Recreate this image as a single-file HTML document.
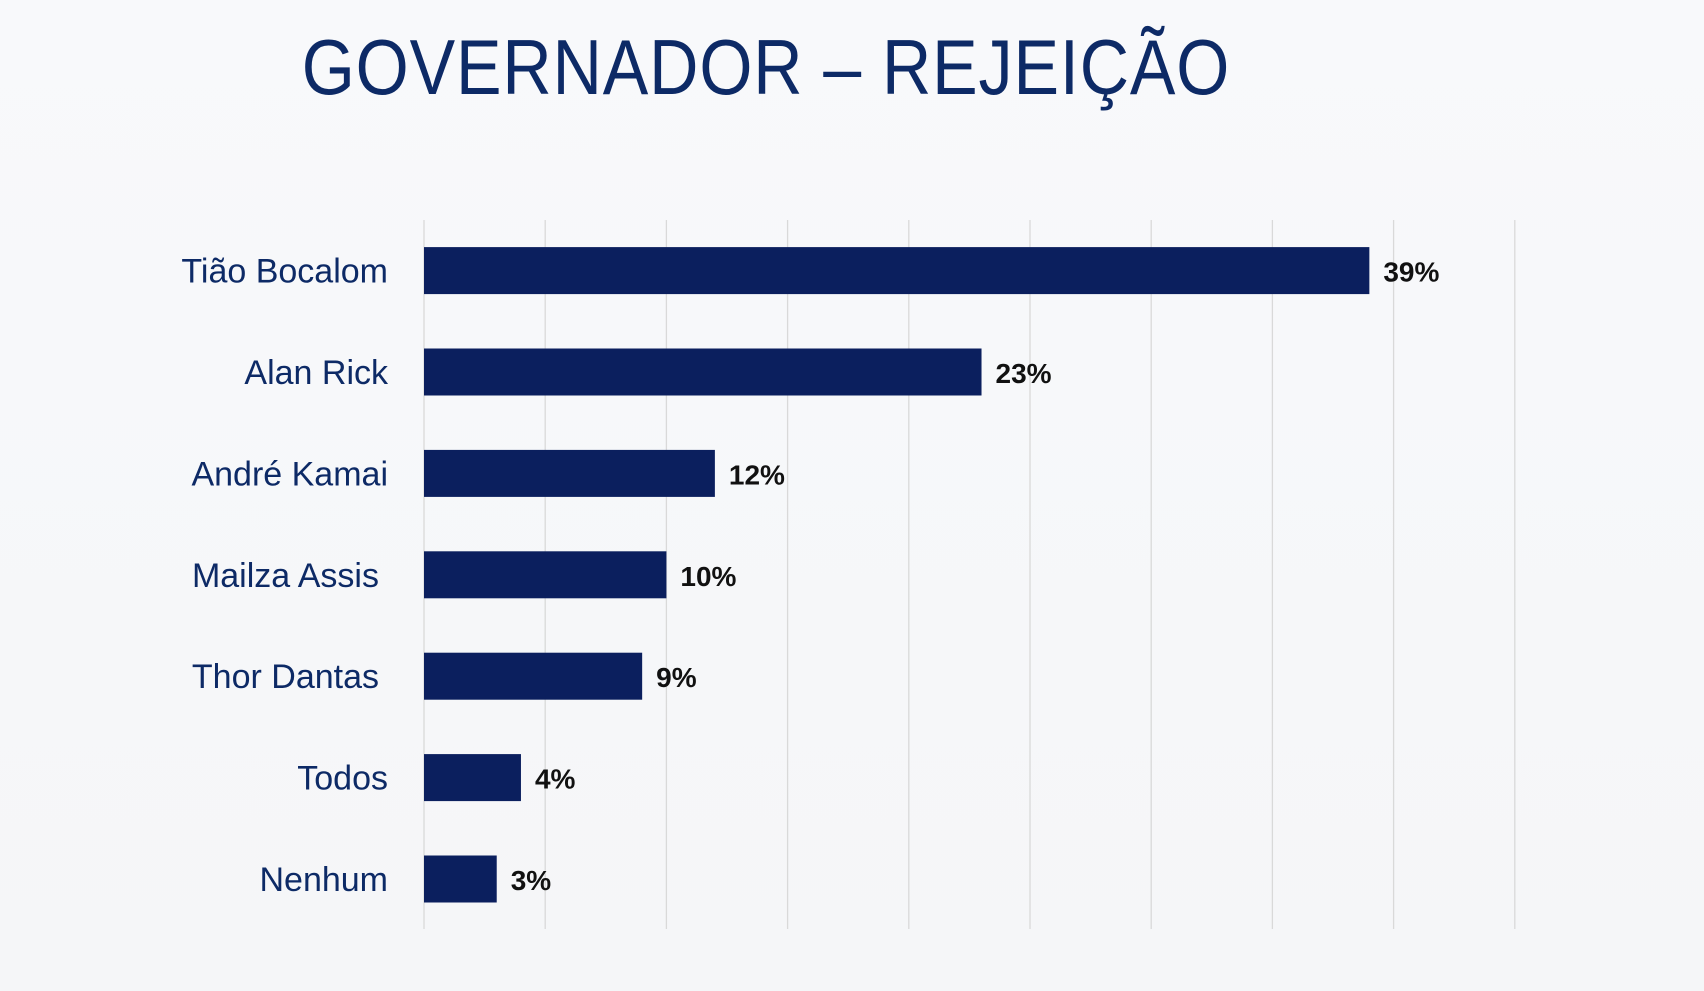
<!DOCTYPE html>
<html><head><meta charset="utf-8">
<style>
html,body{margin:0;padding:0;background:#f7f8fa;}
#wrap{position:relative;width:1704px;height:991px;overflow:hidden;background:linear-gradient(180deg,#f8f9fb,#f5f6f8);}
#title{position:absolute;left:0;top:22px;width:1532px;text-align:center;font-family:"Liberation Sans",sans-serif;font-size:78px;color:#0d2a66;letter-spacing:1px;transform:scaleX(0.875);transform-origin:766px 0;}
svg{position:absolute;left:0;top:0;}
</style></head><body>
<div id="wrap">
<div id="title">GOVERNADOR – REJEIÇÃO</div>
<svg id="chart" width="1704" height="991"></svg>
</div>
<script>
const categories=["Tião Bocalom","Alan Rick","André Kamai","Mailza Assis","Thor Dantas","Todos","Nenhum"];
const values=[39,23,12,10,9,4,3];
const valueLabels=["39%","23%","12%","10%","9%","4%","3%"];
const gridTicks=[0,5,10,15,20,25,30,35,40,45];
const NS="http://www.w3.org/2000/svg";
const svg=document.getElementById('chart');
const x0=424,pxPer=24.24,yTop=220,yBot=929,firstC=270.6,step=101.4,barH=47;
function xs(v){return x0+v*pxPer;}
function yc(i){return firstC+i*step;}
function mk(t,a){const e=document.createElementNS(NS,t);for(const k in a)e.setAttribute(k,a[k]);svg.appendChild(e);return e;}
gridTicks.forEach((t,i)=>{
 const l=mk('line',{x1:xs(t),x2:xs(t),y1:yTop,y2:yBot,stroke:'#d9d9d9','stroke-width':1.3});
 
 
});
categories.forEach((c,i)=>{
 const r=mk('rect',{x:xs(0),y:yc(i)-barH/2,width:xs(values[i])-xs(0),height:barH,fill:'#0b1f5e'});
 
 
 const lx=(i===3||i===4)?379:388;
 const t=mk('text',{x:lx,y:yc(i)+12,'text-anchor':'end','font-family':'Liberation Sans, sans-serif','font-size':34,fill:'#0d2a66'});
 t.textContent=c;
 
 
 const v=mk('text',{x:xs(values[i])+14,y:yc(i)+11,'font-family':'Liberation Sans, sans-serif','font-size':28,'font-weight':'bold',fill:'#111'});
 v.textContent=valueLabels[i];
 
 
});
</script>
</body></html>
